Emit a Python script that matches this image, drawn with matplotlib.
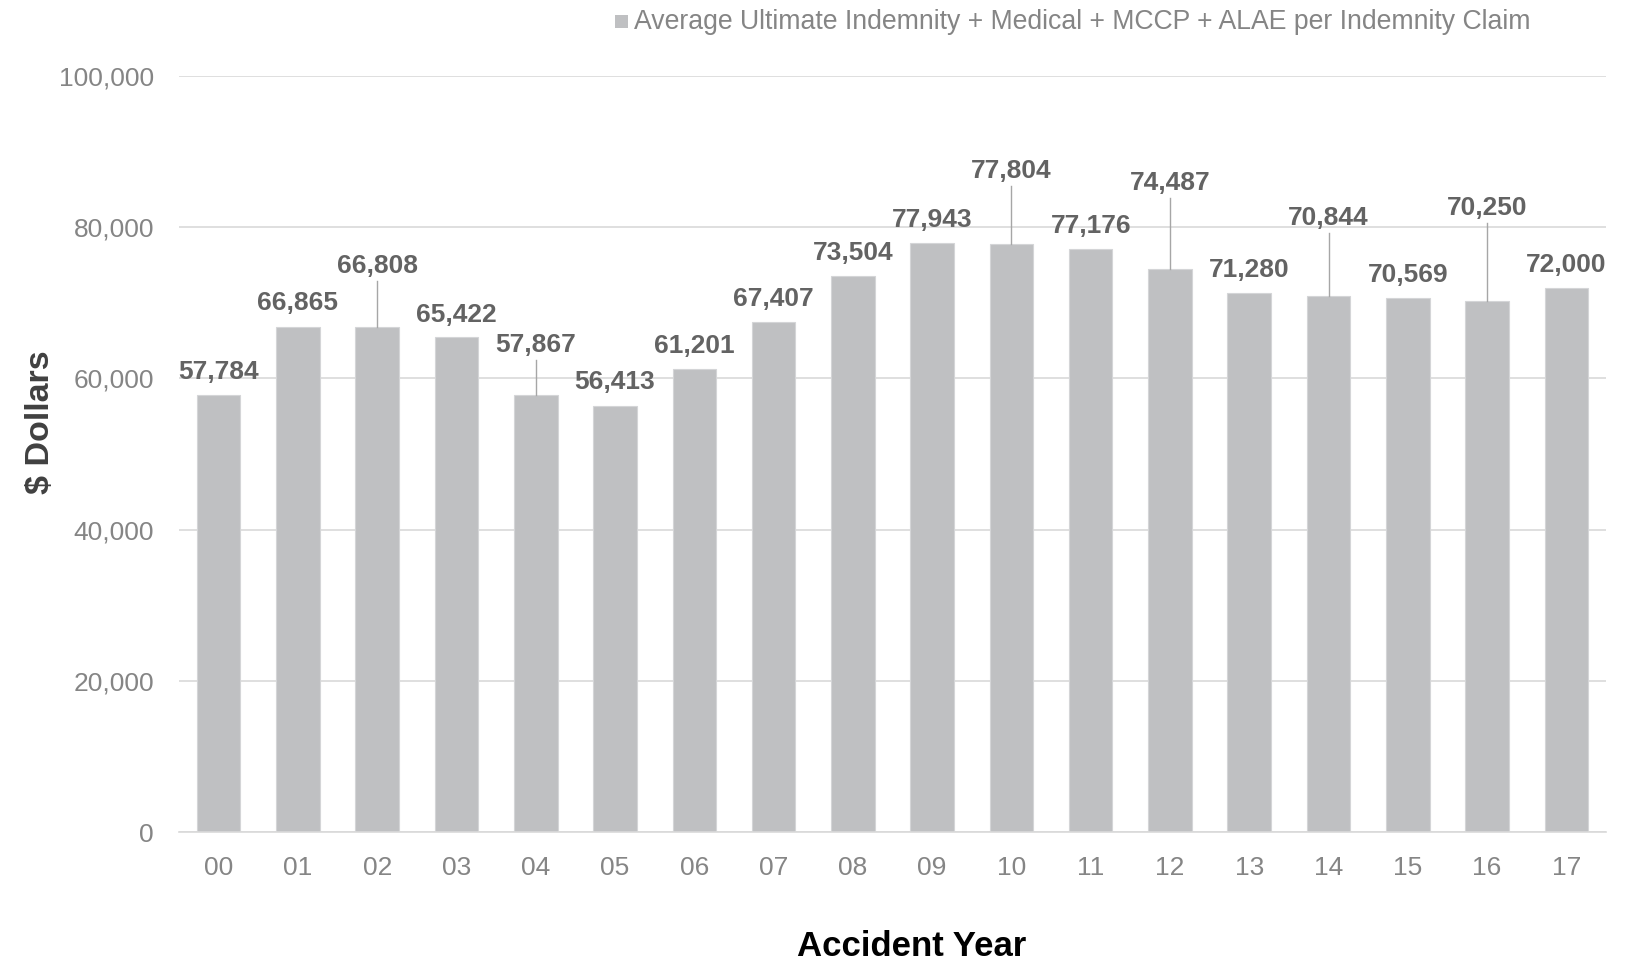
import matplotlib
matplotlib.use("Agg")
import matplotlib.pyplot as plt
from matplotlib.ticker import FuncFormatter, MultipleLocator
from matplotlib.patches import Rectangle

years = ["00", "01", "02", "03", "04", "05", "06", "07", "08",
         "09", "10", "11", "12", "13", "14", "15", "16", "17"]
values = [57784, 66865, 66808, 65422, 57867, 56413, 61201, 67407, 73504,
          77943, 77804, 77176, 74487, 71280, 70844, 70569, 70250, 72000]
# label placement heights (data units) as positioned in the original chart
label_y = [60841, 69945, 74910, 68428, 64428, 59462, 64290, 70497, 76566,
           80979, 87462, 80152, 85807, 74359, 81255, 73669, 82497, 75048]
leader = [False, False, True, False, True, False, False, False, False,
          False, True, False, True, False, True, False, True, False]
series_name = "Average Ultimate Indemnity + Medical + MCCP + ALAE per Indemnity Claim"

plt.rcParams['font.family'] = ['Liberation Sans', 'DejaVu Sans']

W, H = 1635, 963
fig = plt.figure(figsize=(W / 100, H / 100), dpi=100)
ax = fig.add_axes([179 / W, 1 - 832 / H, (1606 - 179) / W, (832 - 76) / H])

bar_color = "#BFC0C2"
x = list(range(len(years)))
ax.bar(x, values, width=0.55, color=bar_color, edgecolor="#D4D5D7", linewidth=0.8, zorder=2)

ax.set_xlim(-0.5, len(years) - 0.5)
ax.set_ylim(0, 100000)
ax.yaxis.set_major_locator(MultipleLocator(20000))
ax.yaxis.set_major_formatter(FuncFormatter(lambda v, p: f"{int(v):,}"))
ax.set_xticks(x)
ax.set_xticklabels(years)
ax.grid(axis="y", color="#D9D9D9", linewidth=1.2, zorder=0)
ax.set_axisbelow(True)
for s in ["top", "right", "left"]:
    ax.spines[s].set_visible(False)
ax.spines["bottom"].set_color("#D9D9D9")
ax.spines["bottom"].set_linewidth(1.2)
ax.tick_params(axis="both", length=0, labelsize=19, colors="#858585")
ax.tick_params(axis="x", pad=17)
ax.tick_params(axis="y", pad=18)

for i, (v, ly, ld) in enumerate(zip(values, label_y, leader)):
    ax.text(i, ly, f"{v:,}", ha="center", va="center", fontsize=19,
            fontweight="bold", color="#636363", clip_on=False, zorder=4)
    if ld:
        ax.plot([i, i], [v, ly - 2000], color="#A6A6A6", linewidth=1.0, zorder=3)

fig.text(40 / W, 1 - 422 / H, "$ Dollars", rotation=90, ha="center", va="center",
         fontsize=24.5, fontweight="bold", color="#404040")
fig.text(912 / W, 1 - 946 / H, "Accident Year", ha="center", va="center",
         fontsize=25, fontweight="bold", color="#000000")

# legend
sq = 13
fig.patches.append(Rectangle((615 / W, 1 - 28 / H), sq / W, sq / H,
                             transform=fig.transFigure, facecolor=bar_color,
                             edgecolor="none"))
fig.text(634 / W, 1 - 22 / H, series_name, ha="left", va="center",
         fontsize=19.2, color="#858585")

fig.savefig("out.png", dpi=100, facecolor="white")
